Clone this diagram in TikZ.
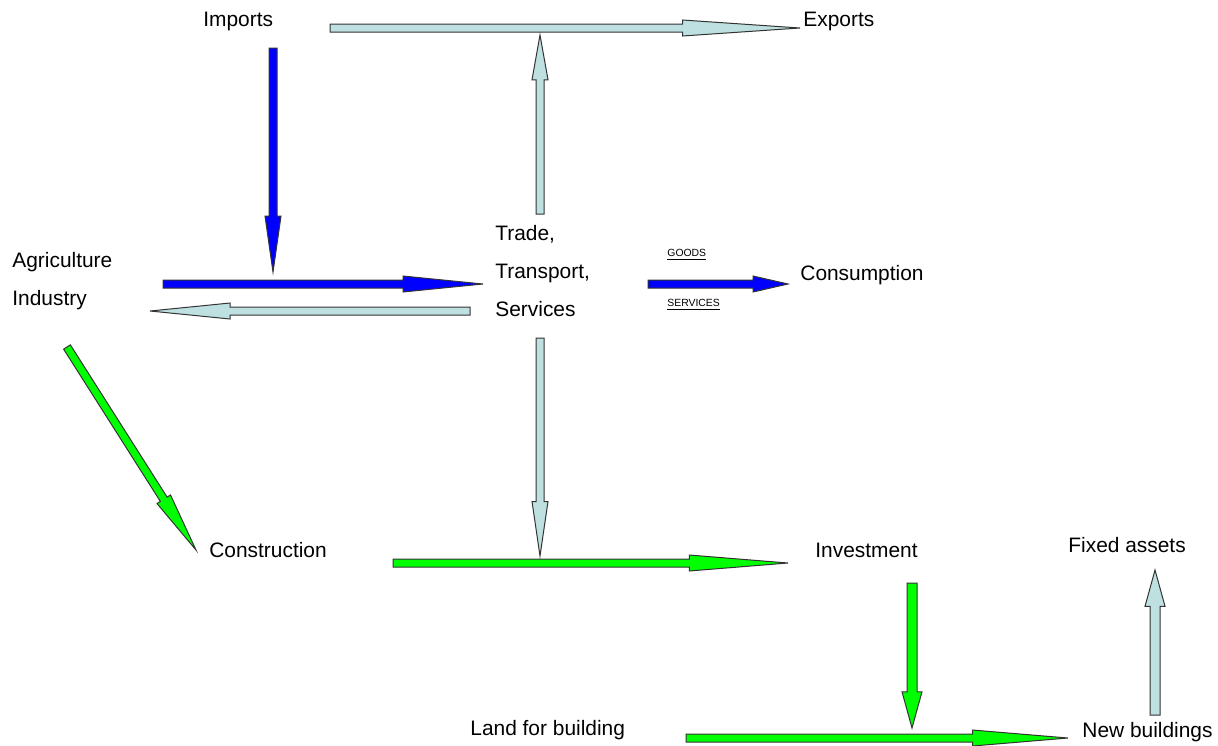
\documentclass[tikz,border=0pt]{standalone}
\usepackage{fontspec}
\setmainfont{Liberation Sans}
\usetikzlibrary{calc}

\definecolor{flowblue}{RGB}{0,0,255}
\definecolor{flowgrey}{RGB}{190,224,224}
\definecolor{flowgreen}{RGB}{0,255,0}

% block arrow: [half shaft width]{fill}{from}{to}
\newcommand\blockarrow[4][2pt]{%
  \coordinate (ba-h) at ($(#3)!0.75!(#4)$);
  \filldraw[blockline, fill=#2]
    ($(#3)!#1!90:(#4)$) -- ($(ba-h)!#1!90:(#4)$) -- ($(ba-h)!2*#1!90:(#4)$) -- (#4)
    -- ($(ba-h)!2*#1!-90:(#4)$) -- ($(ba-h)!#1!-90:(#4)$) -- ($(#3)!#1!-90:(#4)$) -- cycle;}

\begin{document}
\begin{tikzpicture}[x=0.5pt, y=-0.5pt,
    blockline/.style={draw=black!80, line width=0.5pt, line join=miter},
    lbl/.style={anchor=base west, inner sep=0pt, font=\fontsize{10.45}{12}\selectfont},
    tag/.style={anchor=base west, inner sep=0pt, font=\fontsize{5.2}{6}\selectfont}]
  \useasboundingbox (0,0) rectangle (1218,745);

  % labels
  \node[lbl] (imports) at (203,26) {Imports};
  \node[lbl] (exports) at (803,26) {Exports};
  \node[lbl] (agri) at (12,267) {Agriculture};
  \node[lbl] (industry) at (12,305) {Industry};
  \node[lbl] (trade) at (495,240) {Trade,};
  \node[lbl] (transport) at (495,278) {Transport,};
  \node[lbl] (services) at (495,316) {Services};
  \node[lbl] (consumption) at (800,280) {Consumption};
  \node[tag] (goods) at (667,256) {\underline{GOODS}};
  \node[tag] (servtag) at (667,306) {\underline{SERVICES}};
  \node[lbl] (construction) at (209,557) {Construction};
  \node[lbl] (investment) at (815,557) {Investment};
  \node[lbl] (fixed) at (1068,552) {Fixed assets};
  \node[lbl] (land) at (470,735) {Land for building};
  \node[lbl] (newbuild) at (1082,737) {New buildings};

  % arrow ends
  \coordinate (imp-e) at (330,28);   \coordinate (exp-w) at (800,28);
  \coordinate (imp-s) at (273,48);   \coordinate (agr-n) at (273,272);
  \coordinate (trd-n) at (540,214);  \coordinate (top-s) at (540,35);
  \coordinate (agr-e) at (163,284);  \coordinate (trd-w) at (483,284);
  \coordinate (trd-b) at (470,311);  \coordinate (agr-b) at (150,311);
  \coordinate (trd-e) at (648,284);  \coordinate (con-w) at (788,284);
  \coordinate (ind-s) at (67,347);   \coordinate (cst-n) at (196,550);
  \coordinate (trd-s) at (540,338);  \coordinate (inv-n) at (540,556);
  \coordinate (cst-e) at (393,563);  \coordinate (inv-w) at (788,563);
  \coordinate (inv-s) at (912,583);  \coordinate (bld-n) at (912,728);
  \coordinate (lnd-e) at (686,738);  \coordinate (new-w) at (1068,738);
  \coordinate (new-n) at (1155,715); \coordinate (fix-s) at (1155,570);

  % arrows
  \blockarrow{flowgrey}{imp-e}{exp-w}
  \blockarrow{flowblue}{imp-s}{agr-n}
  \blockarrow{flowgrey}{trd-n}{top-s}
  \blockarrow{flowblue}{agr-e}{trd-w}
  \blockarrow{flowgrey}{trd-b}{agr-b}
  \blockarrow{flowblue}{trd-e}{con-w}
  \blockarrow{flowgreen}{ind-s}{cst-n}
  \blockarrow{flowgrey}{trd-s}{inv-n}
  \blockarrow{flowgreen}{cst-e}{inv-w}
  \blockarrow[2.5pt]{flowgreen}{inv-s}{bld-n}
  \blockarrow{flowgreen}{lnd-e}{new-w}
  \blockarrow[2.5pt]{flowgrey}{new-n}{fix-s}
\end{tikzpicture}
\end{document}
